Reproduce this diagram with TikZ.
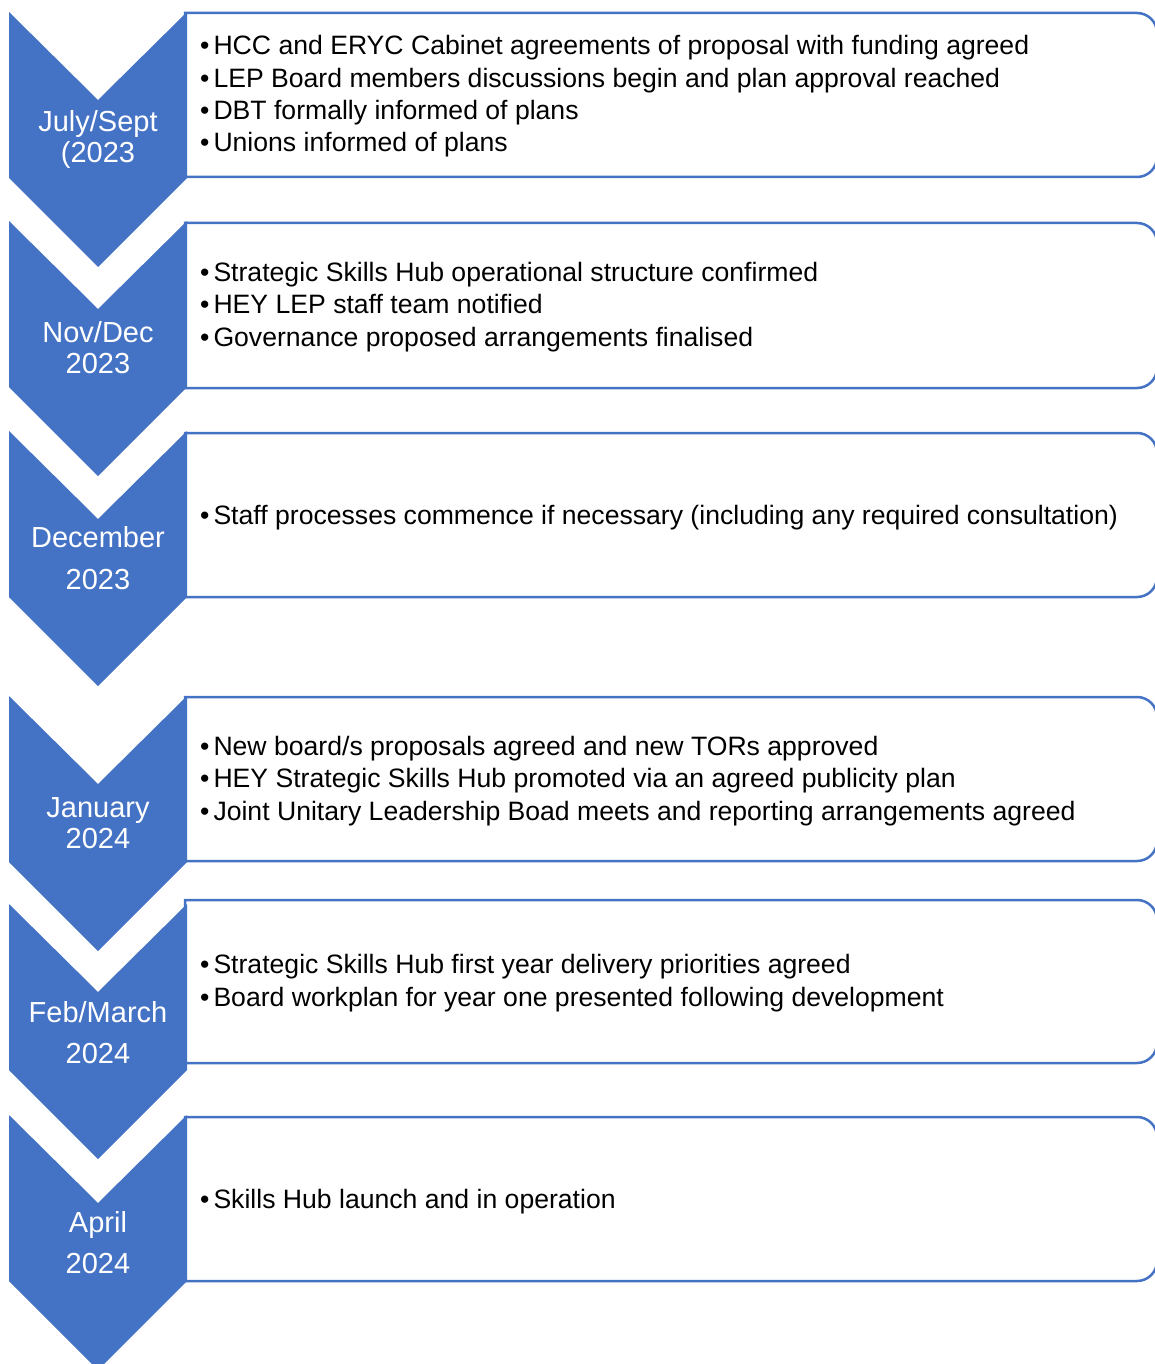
\documentclass[tikz,border=0pt]{standalone}
\usepackage{fontspec}
\setmainfont{Liberation Sans}
\definecolor{stageblue}{HTML}{4472C4}

\newcommand*{\chevl}{9}
\newcommand*{\chevm}{98}
\newcommand*{\chevr}{187}
\newcommand*{\boxl}{185}
\newcommand*{\boxr}{1157}
\newcommand*{\itemx}{200}

\begin{document}
\begin{tikzpicture}
[
	x=1pt,y=-1pt,
	chevron/.style={fill=stageblue},
	stagebox/.style={draw=stageblue,line width=2.5pt,fill=white},
	datelabel/.style={text=white,anchor=base,inner sep=0pt,align=center,font=\fontsize{29}{31}\selectfont},
	itemlist/.style={anchor=base west,inner sep=0pt,align=left,font=\fontsize{26.6}{32.4}\selectfont}
]

	\useasboundingbox (0,0) rectangle (1155,1364);

	% boxes
	\draw[stagebox] (\boxl,13) -- (\boxr-20,13) arc[start angle=-90,end angle=0,radius=20] -- (\boxr,157) arc[start angle=0,end angle=90,radius=20] -- (\boxl,177) -- cycle;
	\draw[stagebox] (\boxl,223) -- (\boxr-20,223) arc[start angle=-90,end angle=0,radius=20] -- (\boxr,368) arc[start angle=0,end angle=90,radius=20] -- (\boxl,388) -- cycle;
	\draw[stagebox] (\boxl,433) -- (\boxr-20,433) arc[start angle=-90,end angle=0,radius=20] -- (\boxr,577) arc[start angle=0,end angle=90,radius=20] -- (\boxl,597) -- cycle;
	\draw[stagebox] (\boxl,697) -- (\boxr-20,697) arc[start angle=-90,end angle=0,radius=20] -- (\boxr,841) arc[start angle=0,end angle=90,radius=20] -- (\boxl,861) -- cycle;
	\draw[stagebox] (\boxl,900) -- (\boxr-20,900) arc[start angle=-90,end angle=0,radius=20] -- (\boxr,1043) arc[start angle=0,end angle=90,radius=20] -- (\boxl,1063) -- cycle;
	\draw[stagebox] (\boxl,1117) -- (\boxr-20,1117) arc[start angle=-90,end angle=0,radius=20] -- (\boxr,1261) arc[start angle=0,end angle=90,radius=20] -- (\boxl,1281) -- cycle;

	% chevrons
	\fill[chevron] (\chevl,12) -- (\chevm,100) -- (\chevr,12) -- (\chevr,178) -- (\chevm,267) -- (\chevl,178) -- cycle;
	\fill[chevron] (\chevl,221) -- (\chevm,309) -- (\chevr,221) -- (\chevr,387) -- (\chevm,476) -- (\chevl,387) -- cycle;
	\fill[chevron] (\chevl,431) -- (\chevm,519) -- (\chevr,431) -- (\chevr,597) -- (\chevm,686) -- (\chevl,597) -- cycle;
	\fill[chevron] (\chevl,696) -- (\chevm,784) -- (\chevr,696) -- (\chevr,862) -- (\chevm,951) -- (\chevl,862) -- cycle;
	\fill[chevron] (\chevl,904) -- (\chevm,992) -- (\chevr,904) -- (\chevr,1070) -- (\chevm,1159) -- (\chevl,1070) -- cycle;
	\fill[chevron] (\chevl,1115) -- (\chevm,1203) -- (\chevr,1115) -- (\chevr,1281) -- (\chevm,1370) -- (\chevl,1281) -- cycle;

	% dates (anchored on the baseline of the last line)
	\node[datelabel] at (\chevm,163) (julsep) {July/Sept\\(2023};
	\node[datelabel] at (\chevm,373) (novdec) {Nov/Dec\\2023};
	\node[datelabel] at (\chevm,589) (dec) {December\\[11pt]2023};
	\node[datelabel] at (\chevm,848) (jan) {January\\2024};
	\node[datelabel] at (\chevm,1063) (febmar) {Feb/March\\[10pt]2024};
	\node[datelabel] at (\chevm,1273) (apr) {April\\[10pt]2024};

	% items
	\node[itemlist] at (\itemx,152) (julsepitems) {•\hspace{4pt}HCC and ERYC Cabinet agreements of proposal with funding agreed\\•\hspace{4pt}LEP Board members discussions begin and plan approval reached\\•\hspace{4pt}DBT formally informed of plans\\•\hspace{4pt}Unions informed of plans};
	\node[itemlist] at (\itemx,346) (novdecitems) {•\hspace{4pt}Strategic Skills Hub operational structure confirmed\\•\hspace{4pt}HEY LEP staff team notified\\•\hspace{4pt}Governance proposed arrangements finalised};
	\node[itemlist] at (\itemx,524) (decitems) {•\hspace{4pt}Staff processes commence if necessary (including any required consultation)};
	\node[itemlist] at (\itemx,820) (janitems) {•\hspace{4pt}New board/s proposals agreed and new TORs approved\\•\hspace{4pt}HEY Strategic Skills Hub promoted via an agreed publicity plan\\•\hspace{4pt}Joint Unitary Leadership Boad meets and reporting arrangements agreed};
	\node[itemlist] at (\itemx,1006) (febmaritems) {•\hspace{4pt}Strategic Skills Hub first year delivery priorities agreed\\•\hspace{4pt}Board workplan for year one presented following development};
	\node[itemlist] at (\itemx,1208) (apritems) {•\hspace{4pt}Skills Hub launch and in operation};

\end{tikzpicture}
\end{document}
